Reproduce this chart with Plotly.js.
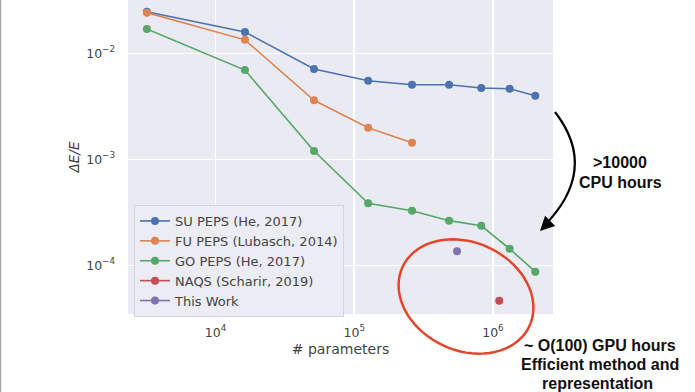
<!DOCTYPE html>
<html>
<head>
<meta charset="utf-8">
<script src="https://cdn.plot.ly/plotly-3.0.1.min.js"></script>
<style>html,body{margin:0;padding:0;background:#fff;}#chart{width:695px;height:392px;}</style>
</head>
<body>
<div id="chart"></div>
<script>
// Data
const params = [3200, 16300, 51300, 126000, 261000, 483000, 824000, 1320000, 2020000];
const suPeps = [0.0247, 0.0159, 0.00711, 0.00552, 0.00506, 0.00506, 0.00471, 0.00464, 0.00398];
const fuParams = [3200, 16300, 51300, 126000, 261000];
const fuPeps = [0.0242, 0.0134, 0.00361, 0.00199, 0.001435];
const goPeps = [0.01694, 0.00695, 0.001197, 0.000385, 0.000327, 0.000264, 0.000236, 0.000143, 0.0000871];
const naqsParams = [1110000];
const naqsErr = [0.0000463];
const thisParams = [551000];
const thisErr = [0.0001355];
const seriesNames = ["SU PEPS (He, 2017)", "FU PEPS (Lubasch, 2014)", "GO PEPS (He, 2017)", "NAQS (Scharir, 2019)", "This Work"];
const xTickVals = [1e4, 1e5, 1e6];
const xTickText = ["10<sup>4</sup>", "10<sup>5</sup>", "10<sup>6</sup>"];
const yTickVals = [1e-4, 1e-3, 1e-2];
const yTickText = ["10<sup>−4</sup>", "10<sup>−3</sup>", "10<sup>−2</sup>"];

const colors = ["#4C72B0", "#DD8452", "#55A868", "#C44E52", "#8172B3"];
function tr(x, y, i) {
  return {x: x, y: y, name: seriesNames[i], type: "scatter", mode: "lines+markers",
    line: {color: colors[i], width: 1.6}, marker: {color: colors[i], size: 8}};
}
const data = [
  tr(params, suPeps, 0),
  tr(fuParams, fuPeps, 1),
  tr(params, goPeps, 2),
  tr(naqsParams, naqsErr, 3),
  tr(thisParams, thisErr, 4)
];

// plot area in pixels
const L = 128, T = 0, W = 425, H = 314;
function px(x) { return (x - L) / W; }
function py(y) { return 1 - (y - T) / H; }

// hand-drawn red ellipse (decoration)
function ellipsePath(cx, cy, a, b, ang) {
  const th = ang * Math.PI / 180; let d = "";
  for (let k = 0; k <= 72; k++) {
    const t = 2 * Math.PI * k / 72;
    const ex = a * Math.cos(t), ey = b * Math.sin(t);
    const X = cx + ex * Math.cos(th) - ey * Math.sin(th);
    const Y = cy + ex * Math.sin(th) + ey * Math.cos(th);
    d += (k === 0 ? "M" : "L") + px(X).toFixed(4) + "," + py(Y).toFixed(4);
  }
  return d + "Z";
}
const arrowPath = "M" + px(555) + "," + py(112) + " Q" + px(600) + "," + py(170) + " " + px(543) + "," + py(227);

const txtFont = {family: "Liberation Sans, Arial, sans-serif", size: 16, color: "#111", weight: "bold"};
function note(text, x, y) {
  return {text: text, xref: "paper", yref: "paper", x: px(x), y: py(y), showarrow: false,
    xanchor: "center", yanchor: "middle", font: txtFont};
}

const layout = {
  width: 695, height: 392,
  margin: {l: L, r: 695 - L - W, t: T, b: 392 - T - H},
  paper_bgcolor: "#ffffff", plot_bgcolor: "#EAEAF2",
  font: {family: "DejaVu Sans, sans-serif", size: 12.5, color: "#444"},
  showlegend: true,
  legend: {x: px(134), y: py(205), xanchor: "left", yanchor: "top",
    bgcolor: "rgba(236,236,244,1)", bordercolor: "#d4d4dc", borderwidth: 1,
    font: {family: "DejaVu Sans, sans-serif", size: 13, color: "#444"}},
  xaxis: {type: "log", range: [3.369, 6.433], tickvals: xTickVals, ticktext: xTickText,
    showgrid: true, gridcolor: "#ffffff", gridwidth: 1.5, zeroline: false, showline: false,
    ticks: "", ticklabelstandoff: 9, tickfont: {size: 12.5, color: "#444"},
    title: {text: "# parameters", standoff: 5, font: {size: 14, color: "#444"}}},
  yaxis: {type: "log", range: [-4.459, -1.497], tickvals: yTickVals, ticktext: yTickText,
    showgrid: true, gridcolor: "#ffffff", gridwidth: 1.5, zeroline: false, showline: false,
    ticks: "", ticklabelstandoff: 12, tickfont: {size: 12.5, color: "#444"},
    title: {text: "<i>ΔE/E</i>", standoff: 3, font: {size: 13.5, color: "#444"}}},
  shapes: [
    {type: "path", xref: "paper", yref: "paper", path: ellipsePath(466, 296.5, 70, 54, 25),
      line: {color: "#E5452B", width: 2.5}, layer: "above"},
    {type: "path", xref: "paper", yref: "paper", path: arrowPath,
      line: {color: "#000", width: 2.2}, layer: "above"},
    {type: "line", xref: "paper", yref: "paper", x0: px(0.5), x1: px(0.5), y0: py(0), y1: py(392),
      line: {color: "#aaaaaa", width: 1.5}}
  ],
  annotations: [
    {text: "", xref: "paper", yref: "paper", x: px(540), y: py(231), ax: 10, ay: -10,
      showarrow: true, arrowhead: 2, arrowsize: 1.3, arrowwidth: 2.2, arrowcolor: "#000", standoff: 0},
    note(">10000", 620, 162),
    note("CPU hours", 620, 182),
    note("~ O(100) GPU hours", 600, 345),
    note("Efficient method and", 600, 364),
    note("representation", 597, 383)
  ]
};
Plotly.newPlot("chart", data, layout, {displayModeBar: false, staticPlot: true});
</script>
</body>
</html>
